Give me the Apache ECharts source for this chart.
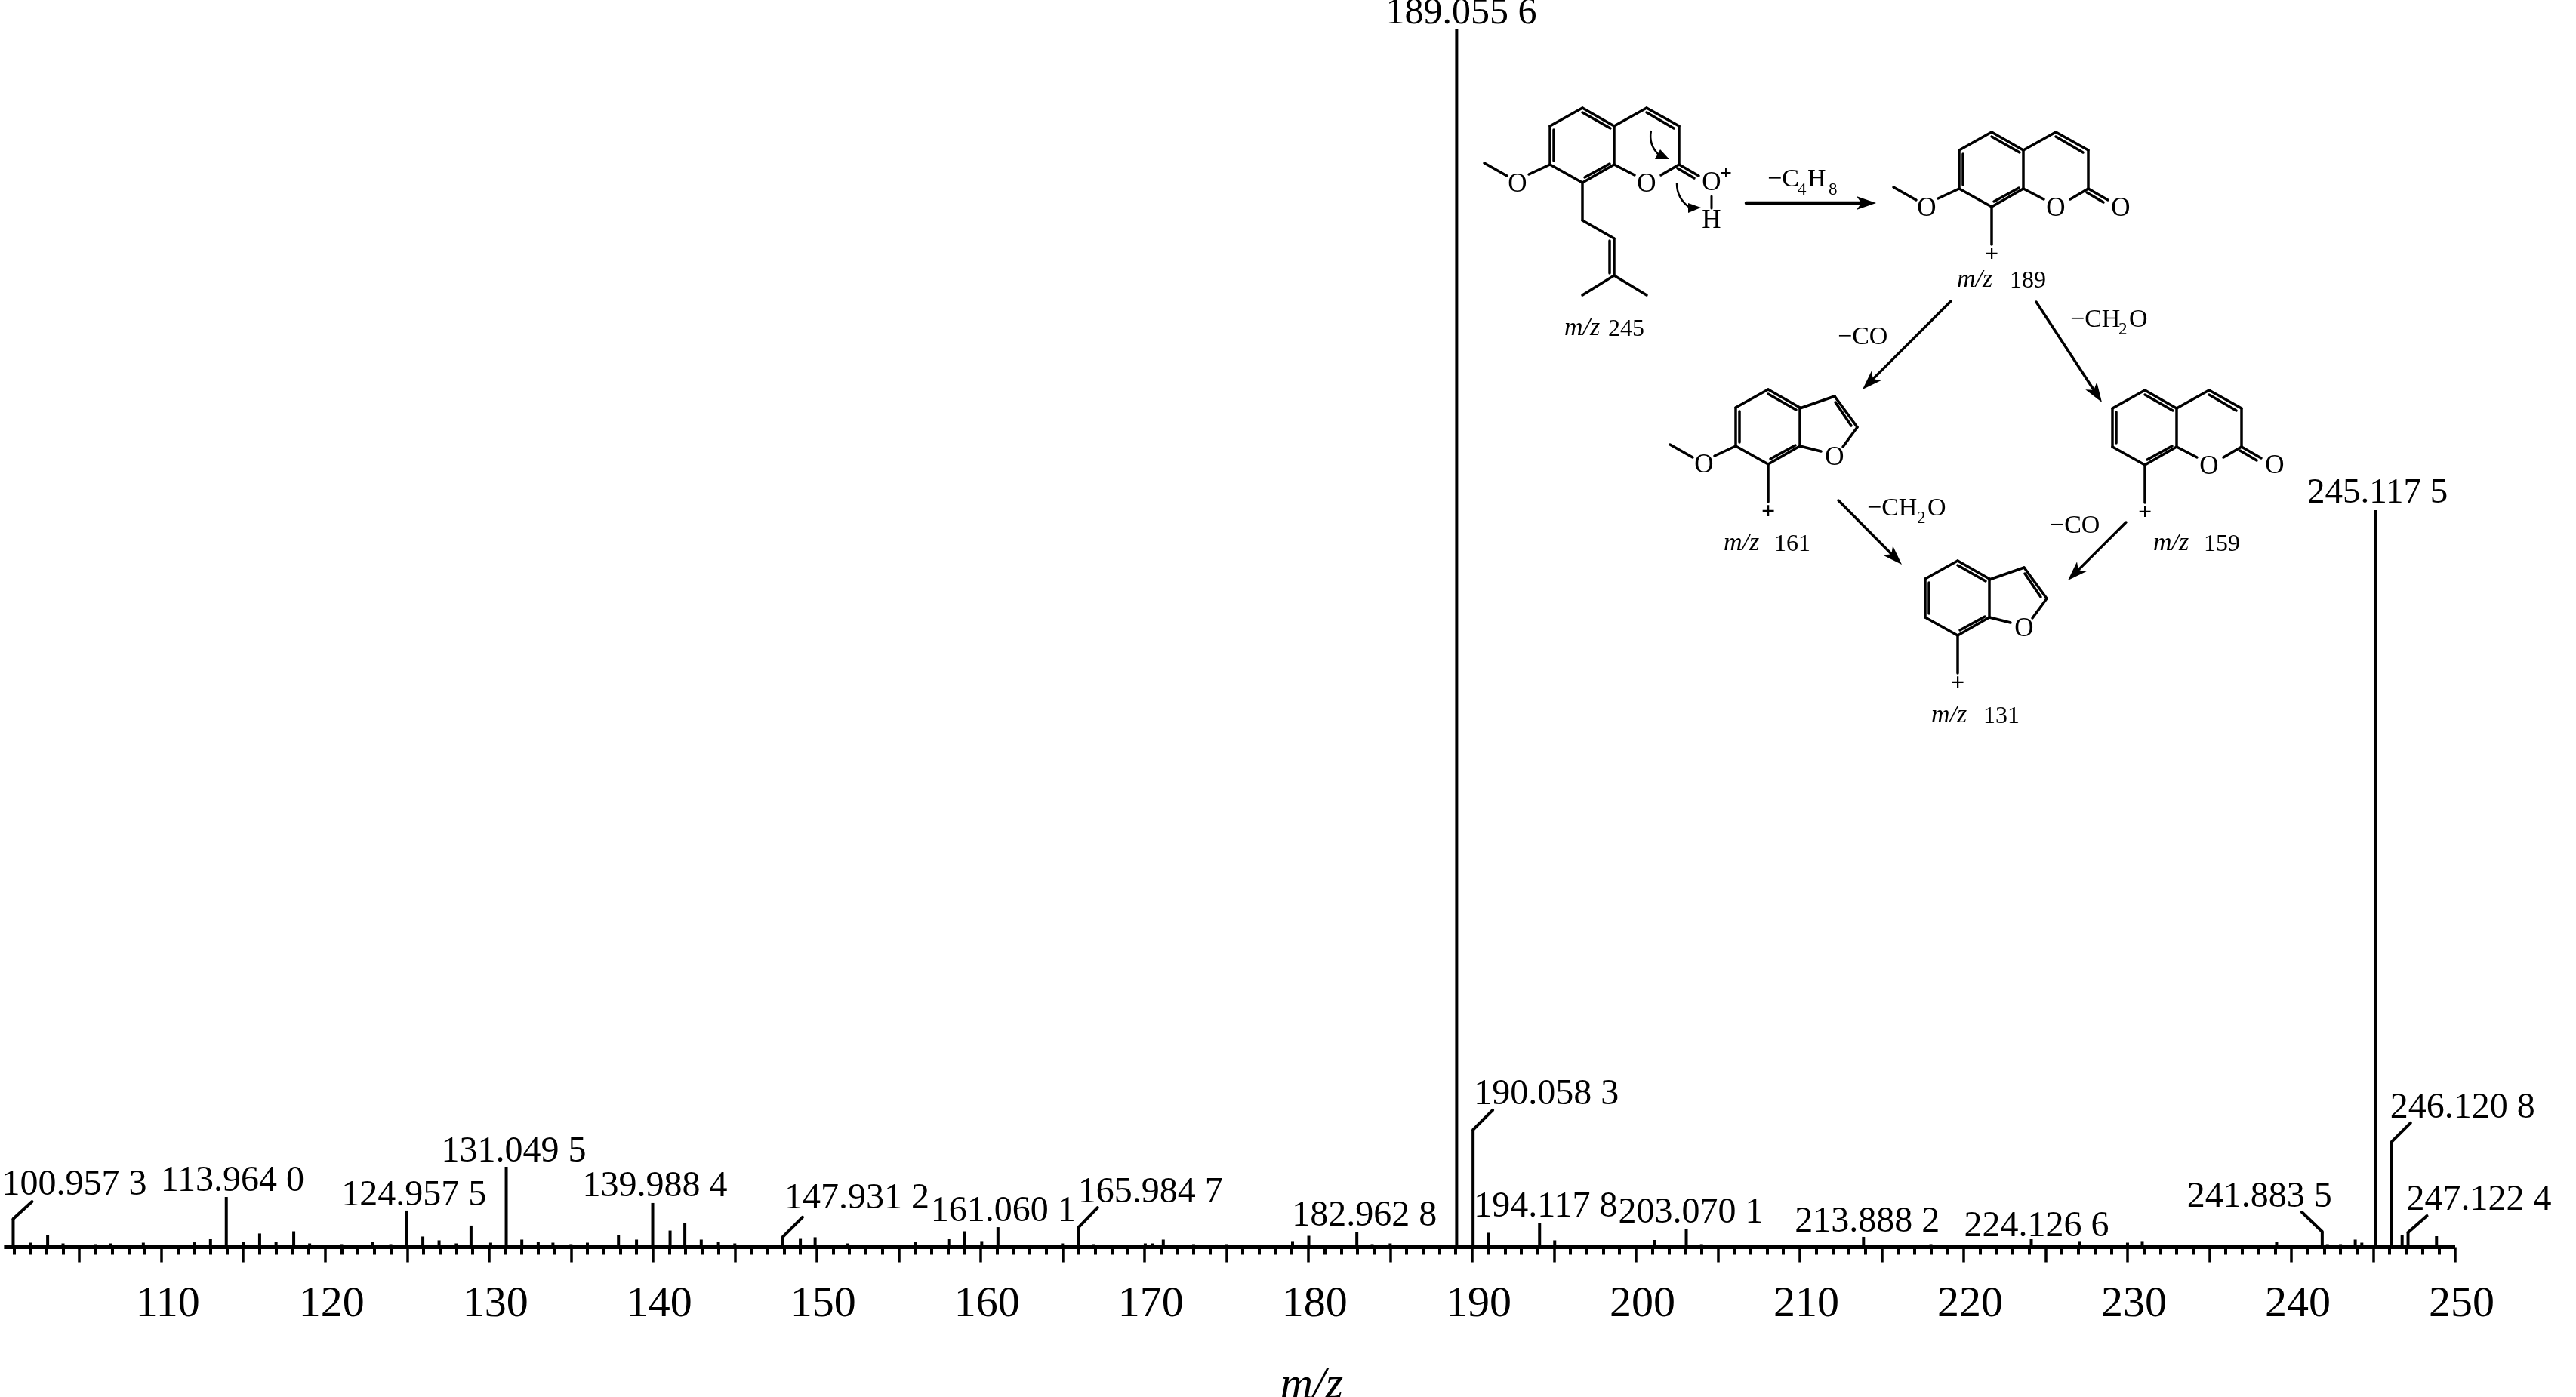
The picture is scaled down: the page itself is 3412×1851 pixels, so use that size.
<!DOCTYPE html>
<html>
<head>
<meta charset="utf-8">
<title>MS/MS spectrum</title>
<style>html,body{margin:0;padding:0;background:#fff}#chart{width:3412px;height:1851px}</style>
<script src="https://cdn.jsdelivr.net/npm/echarts@6/dist/echarts.min.js"></script>
</head>
<body>
<div id="chart"></div>
<script>
// ---------- data ----------
const axisTicks = [110,120,130,140,150,160,170,180,190,200,210,220,230,240,250];
const baselineRange = [100.4, 250];
const peakMz = [100.957,102,103.06,104,106,106.9,108.9,112,113,113.964,115,116,117,118.08,119.05,121,122,122.9,124,124.958,125.96,126.95,128,128.9,130.1,131.05,132,133,133.9,135,136,137.9,139,139.988,141.05,141.95,142.95,144,145,147.931,149,149.9,151,151.9,153,155,156,157,158.06,159.02,160.07,161.06,162.05,163,164,165,165.985,166.9,168,170.05,170.5,171.15,172,173,173.95,175,177,178,179.04,180.03,181,182,182.963,183.9,185,186,187,188,189.056,190.058,191,192,193,194.118,195.04,196,197,198,199,200,201.15,202,203.07,204,205,207,208,208.9,210,212,213.888,216,217,218,219.1,221,222.1,223,224.127,225,226,227.07,228,229,230,230.9,232,235,236,238,239.1,240,241,241.884,242.2,243,243.9,244.3,245.118,246.121,246.76,247.122,247.9,248.86,249.5];
const peakIntensity = [2.32,0.37,0.99,0.31,0.25,0.31,0.37,0.40,0.68,4.12,0.43,1.12,0.43,1.30,0.31,0.25,0.19,0.46,0.25,3.01,0.87,0.56,0.31,1.77,0.37,6.60,0.62,0.43,0.37,0.25,0.37,0.99,0.62,3.63,1.36,1.98,0.62,0.43,0.31,0.84,0.74,0.81,0.12,0.31,0.12,0.12,0.43,0.19,0.68,1.30,0.50,1.64,0.19,0.19,0.19,0.31,1.64,0.25,0.19,0.31,0.31,0.62,0.19,0.25,0.19,0.25,0.19,0.19,0.50,0.93,0.19,0.12,1.27,0.25,0.31,0.19,0.19,0.19,100,9.64,1.18,0.19,0.19,2.01,0.56,0.12,0.12,0.19,0.19,0.12,0.59,0.12,1.46,0.25,0.12,0.12,0.19,0.19,0.12,0.19,0.84,0.19,0.19,0.25,0.19,0.19,0.12,0.12,0.68,0.19,0.19,0.50,0.19,0.12,0.37,0.50,0.12,0.12,0.12,0.12,0.43,0.12,0.12,1.27,0.25,0.25,0.62,0.37,60.52,8.65,0.96,1.21,0.19,0.90,0.19];
const labelledMz = [100.957,113.964,124.958,131.05,139.988,147.931,161.06,165.985,182.963,189.056,190.058,194.118,203.07,213.888,224.127,241.884,245.118,246.121,247.122];
const labelTexts = ['100.957 3','113.964 0','124.957 5','131.049 5','139.988 4','147.931 2','161.060 1','165.984 7','182.962 8','189.055 6','190.058 3','194.117 8','203.070 1','213.888 2','224.126 6','241.883 5','245.117 5','246.120 8','247.122 4'];

// ---------- layout, apart from the values ----------
// label offset from the peak top [dx, dy], leader offset [dx, dy] or null
const labelOffsets = [[-15,-28],[-87,-4],[-86,-3],[-86,-3],[-93,-5],[2,-34],[-89,-4],[-1,-29],[-86,-4],[-94,-4],[1,-30],[-87,-4],[-90,-5],[-91,-3],[-89,0],[-179,-29],[-90,-6],[-2,-28],[-2,-26]];
const labelFonts = [48,48,48,48,48,48,48,48,48,50,48,48,48,48,48,48,47,48,48];
const leaders = [[25,-23],null,null,null,null,[26,-26],null,[25,-26],null,null,[26,-26],null,null,null,null,[-27,-26],null,[25,-25],[25,-22]];

const FAMILY = '"Liberation Serif","Times New Roman",serif';
const BLACK = '#000';
const MIDDLE_SHIFT = 0.3375; // em between alphabetic baseline and the middle line
const ATOM = 35;

// ---------- chemistry drawing annotation ----------
const graphicEls = [];
function seg(x1,y1,x2,y2,w){
  graphicEls.push({type:'line',silent:true,shape:{x1,y1,x2,y2},style:{stroke:BLACK,lineWidth:w||3.5,lineCap:'round'}});
}
function txt(text,x,base,size,opt){
  opt = opt||{};
  graphicEls.push({type:'text',silent:true,style:{text,x,y:base-MIDDLE_SHIFT*size,fill:BLACK,
    font:(opt.italic?'italic ':'')+(opt.bold?'bold ':'')+size+'px '+FAMILY,
    textAlign:opt.align||'left',textVerticalAlign:'middle'}});
}
function centered(text,x,y,size,opt){
  opt=opt||{};
  graphicEls.push({type:'text',silent:true,style:{text,x,y,fill:BLACK,
    font:(opt.bold?'bold ':'')+size+'px '+FAMILY,textAlign:'center',textVerticalAlign:'middle'}});
}
function arrow(x1,y1,x2,y2,w){
  const L=Math.hypot(x2-x1,y2-y1),ux=(x2-x1)/L,uy=(y2-y1)/L,nx=-uy,ny=ux,h=26,b=9;
  seg(x1,y1,x2-ux*h*0.7,y2-uy*h*0.7,w||3.5);
  graphicEls.push({type:'polygon',silent:true,shape:{points:[[x2,y2],[x2-ux*h+nx*b,y2-uy*h+ny*b],[x2-ux*h*0.75,y2-uy*h*0.75],[x2-ux*h-nx*b,y2-uy*h-ny*b]]},style:{fill:BLACK}});
}
function bondSet(ox,oy,list){ list.forEach(b=>seg(ox+b[0],oy+b[1],ox+b[2],oy+b[3])); }
const benzene = [[0,24,43,0],[43,0,85,24],[85,24,85,75],[85,75,43,99],[43,99,0,75],[0,75,0,24],[5,29,5,70],[43,6,80,27],[46,92,79,74]];
const lactone = [[85,24,128,0],[128,0,171,24],[171,24,171,75],[85,75,112,89],[147,89,171,75],[171,75,197,90],[169,80,191,93],[128,6,164,27]];
const furan = [[85,25,131,9],[131,9,161,50],[161,50,142,76],[113,82,85,75],[132,17,153,48]];
const methoxy = [[0,75,-28,88],[-57,90,-87,73]];
function coumarin(ox,oy,hasOMe){
  bondSet(ox,oy,benzene); bondSet(ox,oy,lactone);
  centered('O',ox+128,oy+102,ATOM);
  if(hasOMe){ bondSet(ox,oy,methoxy); centered('O',ox-43,oy+102,ATOM); }
}
function benzofuran(ox,oy,hasOMe){
  bondSet(ox,oy,benzene); bondSet(ox,oy,furan);
  centered('O',ox+131,oy+91,ATOM);
  if(hasOMe){ bondSet(ox,oy,methoxy); centered('O',ox-42,oy+101,ATOM); }
}
function cation(ox,oy){ seg(ox+43,oy+99,ox+43,oy+149); centered('+',ox+43,oy+163,32,{bold:true}); }
function mzTag(x1,x2,base,num){ txt('m/z',x1,base,34,{italic:true}); txt(num,x2,base,32); }

// m/z 245
coumarin(2053,143,true);
centered('O',2267,243,ATOM); centered('+',2286,231,28,{bold:true}); centered('H',2267,293,ATOM);
seg(2267,260,2267,276,3);
bondSet(2053,143,[[43,99,43,149],[43,149,85,173],[85,173,85,222],[79,176,79,219],[85,222,43,248],[85,222,128,248]]);
mzTag(2072,2130,447,'245');
graphicEls.push({type:'bezierCurve',silent:true,shape:{x1:2187,y1:173,x2:2198,y2:206,cpx1:2183,cpy1:192},style:{stroke:BLACK,lineWidth:2.5,fill:'none'}});
graphicEls.push({type:'polygon',silent:true,shape:{points:[[2192,211],[2211,211],[2199,198]]},style:{fill:BLACK}});
graphicEls.push({type:'bezierCurve',silent:true,shape:{x1:2221,y1:243,x2:2238,y2:275,cpx1:2221,cpy1:263},style:{stroke:BLACK,lineWidth:2.5,fill:'none'}});
graphicEls.push({type:'polygon',silent:true,shape:{points:[[2253,275],[2236,269],[2236,282]]},style:{fill:BLACK}});
// m/z 189
coumarin(2595,175,true); centered('O',2809,277,ATOM); cation(2595,175); mzTag(2592,2662,383,'189');
// m/z 161
benzofuran(2299,516,true); cation(2299,516); mzTag(2283,2350,732,'161');
// m/z 159
coumarin(2798,517,false); centered('O',3013,618,ATOM); cation(2798,517); mzTag(2852,2919,732,'159');
// m/z 131
benzofuran(2550,743,false); cation(2550,743); mzTag(2558,2627,960,'131');
// arrows
arrow(2313,269,2485,269,4.5);
arrow(2584,399,2467,516,3.5);
arrow(2697,400,2784,533,3.5);
arrow(2435,663,2519,748,3.5);
arrow(2816,692,2739,769,3.5);
// neutral-loss formulas
txt('\u2212C',2341,250,34); txt('4',2381,260,23); txt('H',2394,250,34); txt('8',2422,260,23);
txt('\u2212CO',2434,459,34);
txt('\u2212CH',2742,436,34); txt('2',2806,445,23); txt('O',2820,436,34);
txt('\u2212CH',2473,686,34); txt('2',2539,695,23); txt('O',2553,686,34);
txt('\u2212CO',2715,709,34);

// ---------- chart ----------
const LEFT = -3.3, RIGHT_EDGE = 3252, TOP = 39, BASE = 1652.5;
const chart = echarts.init(document.getElementById('chart'), null, {renderer:'canvas'});
chart.setOption({
  animation:false,
  backgroundColor:'#fff',
  grid:{left:LEFT,top:TOP,width:RIGHT_EDGE-LEFT,height:BASE-TOP,containLabel:false,outerBoundsMode:'none'},
  xAxis:{
    type:'value',min:100,max:250,interval:5,
    axisLine:{show:false},
    axisTick:{show:true,length:20,lineStyle:{color:BLACK,width:3.5}},
    minorTick:{show:true,splitNumber:5,length:10,lineStyle:{color:BLACK,width:4}},
    splitLine:{show:false},minorSplitLine:{show:false},
    axisLabel:{show:true,margin:47,color:BLACK,fontFamily:FAMILY,fontSize:58,padding:[0,0,0,17],
      formatter:v=>axisTicks.includes(v)?String(v):''},
    name:'m/z',nameLocation:'middle',nameGap:154,
    nameTextStyle:{color:BLACK,fontFamily:FAMILY,fontSize:60,fontStyle:'italic',padding:[0,0,0,226]}
  },
  yAxis:{type:'value',min:0,max:100,show:false},
  series:[
    {type:'line',name:'baseline',data:baselineRange.map(x=>[x,0]),symbol:'none',clip:false,silent:true,
      lineStyle:{color:BLACK,width:5},z:3},
    {type:'bar',name:'intensity',data:peakMz.map((m,i)=>[m,peakIntensity[i]]),barWidth:4,silent:true,
      itemStyle:{color:BLACK},z:4},
    {type:'custom',name:'labels',silent:true,clip:false,z:5,
      data:labelledMz.map((m,i)=>[m,peakIntensity[peakMz.indexOf(m)],i]),
      encode:{x:0,y:1},
      renderItem:(params,api)=>{
        const p=api.coord([api.value(0),api.value(1)]);
        const i=api.value(2), off=labelOffsets[i], lead=leaders[i], fs=labelFonts[i];
        const children=[{type:'text',style:{text:labelTexts[i],x:p[0]+off[0],y:p[1]+off[1]-MIDDLE_SHIFT*fs,
          fill:BLACK,font:fs+'px '+FAMILY,textAlign:'left',textVerticalAlign:'middle'}}];
        if(lead) children.push({type:'line',shape:{x1:p[0],y1:p[1],x2:p[0]+lead[0],y2:p[1]+lead[1]},
          style:{stroke:BLACK,lineWidth:4,lineCap:'round'}});
        return {type:'group',children};
      }}
  ],
  graphic:{elements:graphicEls}
});
</script>
</body>
</html>
